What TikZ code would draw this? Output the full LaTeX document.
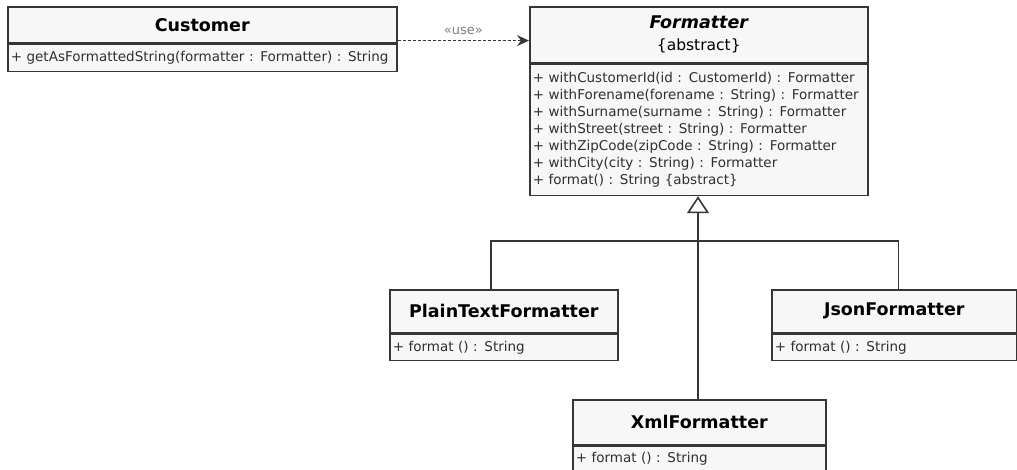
\documentclass[tikz,border=0pt]{standalone}
\usepackage{fontspec}
\setmainfont{DejaVu Sans}
\usetikzlibrary{arrows.meta,positioning}

\definecolor{boxfill}{HTML}{F7F7F7}
\definecolor{boxline}{HTML}{363636}
\definecolor{optext}{HTML}{303030}

\begin{document}
\begin{tikzpicture}[x=1pt, y=-1pt, >=Latex, line join=miter,
    classhead/.style={draw=boxline, fill=boxfill, line width=1.6pt, anchor=north west,
        inner sep=0pt, align=center, font=\fontsize{17.5}{22}\selectfont\bfseries},
    classbody/.style={draw=boxline, fill=boxfill, line width=1.6pt, anchor=north west,
        inner xsep=3pt, inner ysep=0pt, align=left, text=optext,
        font=\fontsize{13.5}{17}\selectfont},
    link/.style={draw=boxline, line width=1.6pt},
    inherits/.style={link, -{Triangle[open, length=17pt, width=22pt, line width=1.6pt]}}]
            \useasboundingbox (0,0) rectangle (1017,470);

            \node[classhead, minimum width=389pt, minimum height=36pt] (custhead) at (7,6) {Customer};
            \node[classbody, text width=383pt, minimum height=27pt] (custbody) at (custhead.south west)
                {+ getAsFormattedString(formatter : Formatter) : String};

            \node[classhead, minimum width=338pt, minimum height=56pt] (fmthead) at (529,6)
                {{\itshape Formatter}\\{\mdseries\fontsize{15.5}{22}\selectfont\{abstract\}}};
            \node[classbody, text width=332pt, minimum height=131pt] (fmtbody) at (fmthead.south west)
                {+ withCustomerId(id : CustomerId) : Formatter\\
                 + withForename(forename : String) : Formatter\\
                 + withSurname(surname : String) : Formatter\\
                 + withStreet(street : String) : Formatter\\
                 + withZipCode(zipCode : String) : Formatter\\
                 + withCity(city : String) : Formatter\\
                 + format() : String \{abstract\}};

            \node[classhead, minimum width=228pt, minimum height=43pt] (plainhead) at (389,289) {PlainTextFormatter};
            \node[classbody, text width=222pt, minimum height=26pt] (plainbody) at (plainhead.south west)
                {+ format () : String};

            \node[classhead, minimum width=245pt, minimum height=43pt] (jsonhead) at (771,289) {JsonFormatter};
            \node[classbody, text width=239pt, minimum height=26pt] (jsonbody) at (jsonhead.south west)
                {+ format () : String};

            \node[classhead, minimum width=253pt, minimum height=45pt] (xmlhead) at (572,399) {XmlFormatter};
            \node[classbody, text width=247pt, minimum height=25pt] (xmlbody) at (xmlhead.south west)
                {+ format () : String};

            \coordinate (usestart) at ([yshift=3pt]custhead.south east);
            \coordinate (useend) at (usestart -| fmthead.west);
            \draw[link, line width=1.3pt, dash pattern=on 3pt off 2pt, -{Stealth[length=12pt, width=11pt, inset=4pt]}]
                (usestart) -- (useend) node[midway, above=2pt, text=gray, font=\fontsize{13}{14}\selectfont] {«use»};

            \coordinate (bus) at (698,241);
            \draw[inherits] (xmlhead.north -| bus) -- (fmtbody.south -| bus);
            \draw[link] ([xshift=-13pt]plainhead.north) |- (bus);
            \draw[link] ([xshift=4pt]jsonhead.north) |- (bus);

        \end{tikzpicture}
\end{document}
